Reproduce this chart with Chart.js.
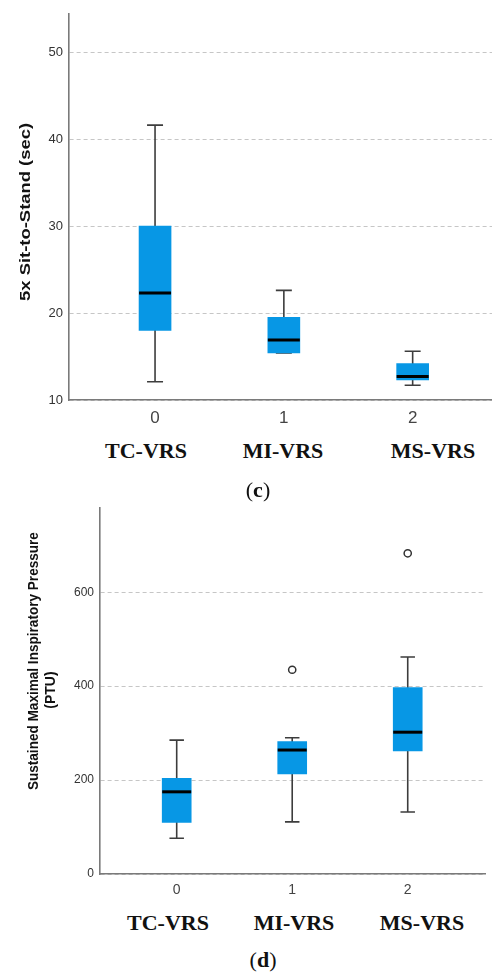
<!DOCTYPE html>
<html>
<head>
<meta charset="utf-8">
<script src="https://cdn.jsdelivr.net/npm/chart.js@4.4.1/dist/chart.umd.min.js"></script>
<style>
  body { margin: 0; background: #fff; }
  #page { position: relative; width: 492px; height: 974px; overflow: hidden; }
  .panel { position: absolute; left: 0; width: 492px; }
  .grp, .cap { position: absolute; transform: translate(-50%, -50%); white-space: nowrap;
    font-family: "Liberation Serif", "DejaVu Serif", serif; color: #111; }
  .grp { font-weight: bold; font-size: 22px; }
  .cap { font-size: 22px; }
  .cap b { font-weight: bold; }
</style>
</head>
<body>
<div id="page">
  <div class="panel" style="top:0;height:430px"><canvas id="sitChart"></canvas></div>
  <div class="panel" style="top:495px;height:405px"><canvas id="smipChart"></canvas></div>
</div>
<script>
const groups = [0, 1, 2];
const groupNames = ['TC-VRS', 'MI-VRS', 'MS-VRS'];

// (c) 5x Sit-to-Stand (sec)
const sitMin = [12.1, 15.4, 11.7];
const sitQ1 = [18.0, 15.4, 12.3];
const sitMed = [22.3, 16.9, 12.7];
const sitQ3 = [30.0, 19.5, 14.2];
const sitMax = [41.6, 22.6, 15.6];
const sitTicks = [10, 20, 30, 40, 50];

// (d) Sustained Maximal Inspiratory Pressure (PTU)
const smipMin = [76, 111, 132];
const smipQ1 = [110, 213, 262];
const smipMed = [175, 264, 302];
const smipQ3 = [204, 282, 397];
const smipMax = [285, 290, 462];
const smipOutX = [1, 2];
const smipOutY = [435, 683];
const smipTicks = [0, 200, 400, 600];

const boxColor = '#0797e5';
const sansFont = 'Arial, "Liberation Sans", sans-serif';

// whiskers behind the boxes, medians on top
function boxPlugin(lo, hi, med) {
    return {
        id: 'boxParts',
        beforeDatasetsDraw(chart) {
            const ctx = chart.ctx;
            const y = chart.scales.y;
            const bars = chart.getDatasetMeta(0).data;
            ctx.save();
            ctx.strokeStyle = '#3d3d3d';
            ctx.lineWidth = 1.6;
            bars.forEach((bar, i) => {
                const half = bar.width / 4;
                const yLo = y.getPixelForValue(lo[i]);
                const yHi = y.getPixelForValue(hi[i]);
                ctx.beginPath();
                ctx.moveTo(bar.x, yLo); ctx.lineTo(bar.x, yHi);
                ctx.moveTo(bar.x - half, yLo); ctx.lineTo(bar.x + half, yLo);
                ctx.moveTo(bar.x - half, yHi); ctx.lineTo(bar.x + half, yHi);
                ctx.stroke();
            });
            ctx.restore();
        },
        afterDatasetsDraw(chart) {
            const ctx = chart.ctx;
            const y = chart.scales.y;
            const bars = chart.getDatasetMeta(0).data;
            ctx.save();
            ctx.strokeStyle = '#000';
            ctx.lineWidth = 3;
            bars.forEach((bar, i) => {
                const ym = y.getPixelForValue(med[i]);
                ctx.beginPath();
                ctx.moveTo(bar.x - bar.width / 2, ym);
                ctx.lineTo(bar.x + bar.width / 2, ym);
                ctx.stroke();
            });
            ctx.restore();
        }
    };
}

// rotated y title; the source figure is stretched along the axis, so "len" stretches the text
function yTitlePlugin(lines, size) {
    return {
        id: 'yTitle',
        afterDraw(chart) {
            const ctx = chart.ctx;
            const a = chart.chartArea;
            lines.forEach(l => {
                ctx.save();
                ctx.translate(l.x, (a.top + a.bottom) / 2 + l.dy);
                ctx.rotate(-Math.PI / 2);
                ctx.font = 'bold ' + size + 'px ' + sansFont;
                ctx.fillStyle = '#111';
                ctx.textAlign = 'center';
                ctx.textBaseline = 'middle';
                if (l.len) ctx.scale(l.len / ctx.measureText(l.text).width, 1);
                ctx.fillText(l.text, 0, 0);
                ctx.restore();
            });
        }
    };
}

function makeChart(id, o) {
    const ctx = document.getElementById(id).getContext('2d');
    const datasets = [{
        type: 'bar',
        data: groups.map((g, i) => ({ x: g, y: [o.q1[i], o.q3[i]] })),
        backgroundColor: boxColor,
        borderWidth: 0,
        barThickness: o.boxW
    }];
    if (o.outX) {
        datasets.push({
            type: 'scatter',
            data: o.outX.map((x, i) => ({ x: x, y: o.outY[i] })),
            pointRadius: 3.6,
            pointBorderWidth: 1.5,
            pointBorderColor: '#333',
            pointBackgroundColor: '#fff'
        });
    }
    return new Chart(ctx, {
        type: 'bar',
        data: { datasets: datasets },
        options: {
            responsive: true,
            maintainAspectRatio: false,
            animation: false,
            layout: { padding: { top: o.padTop, right: o.padRight, left: 0, bottom: 0 } },
            plugins: { legend: { display: false }, tooltip: { enabled: false } },
            scales: {
                x: {
                    type: 'linear',
                    offset: false,
                    min: o.xMin, max: o.xMax,
                    afterBuildTicks: s => { s.ticks = groups.map(v => ({ value: v })); },
                    afterFit: s => { s.height = o.xH; },
                    grid: { drawOnChartArea: false, drawTicks: false },
                    border: { color: '#7a7a7a', width: 1.6 },
                    ticks: { color: '#444', font: { family: sansFont, size: o.xFont }, padding: o.xPad }
                },
                y: {
                    min: o.yMin, max: o.yMax,
                    afterBuildTicks: s => { s.ticks = o.ticks.map(v => ({ value: v })); },
                    afterFit: s => { s.width = o.yW; },
                    grid: { color: '#c6c6c6', lineWidth: 1, drawTicks: false },
                    border: { color: '#7a7a7a', width: 1.6, dash: [4, 3] },
                    ticks: { color: '#333', font: { family: sansFont, size: o.yFont }, padding: 6 }
                }
            }
        },
        plugins: [boxPlugin(o.lo, o.hi, o.med), yTitlePlugin(o.title, o.titleFont)]
    });
}

makeChart('sitChart', {
    q1: sitQ1, q3: sitQ3, lo: sitMin, hi: sitMax, med: sitMed,
    ticks: sitTicks, yMin: 10, yMax: 54.4,
    xMin: -0.668, xMax: 2.616, boxW: 32,
    padTop: 12, padRight: 0, xH: 30, yW: 69,
    xFont: 17, xPad: 8, yFont: 13,
    title: [{ text: '5x Sit-to-Stand (sec)', x: 26, dy: 5, len: 178 }], titleFont: 15
});

makeChart('smipChart', {
    q1: smipQ1, q3: smipQ3, lo: smipMin, hi: smipMax, med: smipMed,
    outX: smipOutX, outY: smipOutY,
    ticks: smipTicks, yMin: 0, yMax: 779,
    xMin: -0.664, xMax: 2.669, boxW: 29,
    padTop: 10, padRight: 7, xH: 26, yW: 100,
    xFont: 14, xPad: 8, yFont: 12,
    title: [
        { text: 'Sustained Maximal Inspiratory Pressure', x: 34, dy: -30, len: 258 },
        { text: '(PTU)', x: 51, dy: -1 }
    ], titleFont: 14
});

// group names and panel captions
const page = document.getElementById('page');
const namePos = [
    { y: 451, x: [146, 283, 433] },
    { y: 923, x: [168, 294, 422] }
];
namePos.forEach(p => {
    groupNames.forEach((name, i) => {
        const d = document.createElement('div');
        d.className = 'grp';
        d.style.left = p.x[i] + 'px';
        d.style.top = p.y + 'px';
        d.textContent = name;
        page.appendChild(d);
    });
});
[['c', 258, 490], ['d', 263, 960]].forEach(([t, x, y]) => {
    const d = document.createElement('div');
    d.className = 'cap';
    d.style.left = x + 'px';
    d.style.top = y + 'px';
    d.innerHTML = '(<b>' + t + '</b>)';
    page.appendChild(d);
});
</script>
</body>
</html>
